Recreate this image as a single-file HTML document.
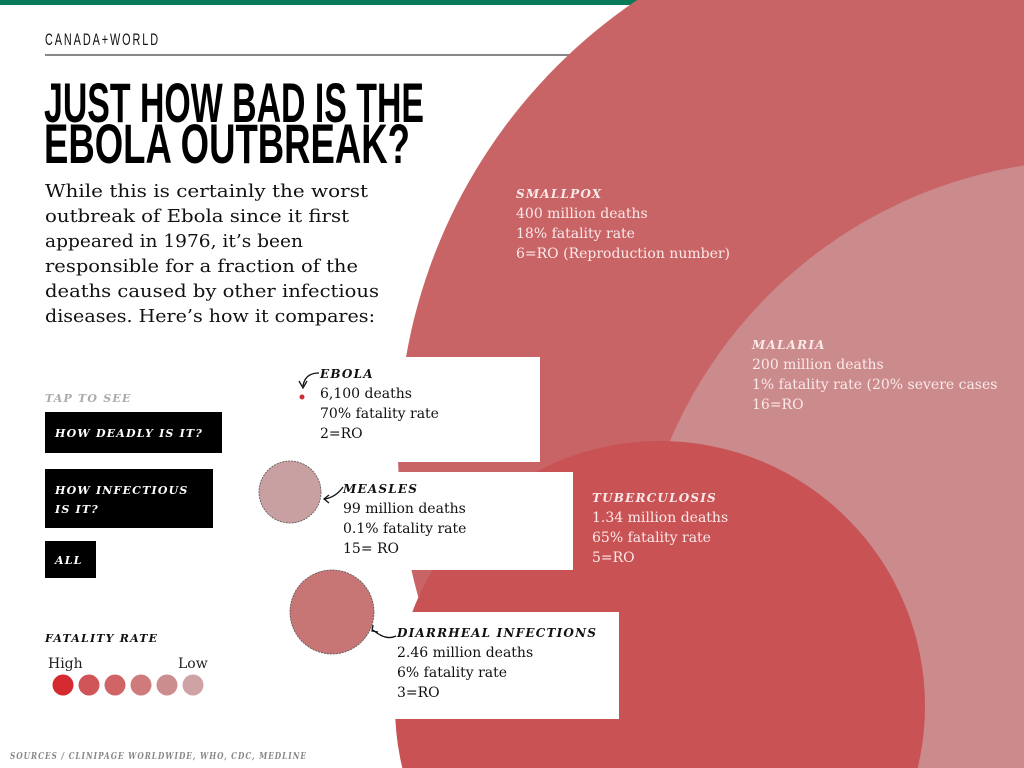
<!DOCTYPE html>
<html><head><meta charset="utf-8"><style>
html,body{margin:0;padding:0;background:#fff;overflow:hidden;width:1024px;height:768px;}
svg{display:block;overflow:hidden;}
.sf{font-family:"DejaVu Serif","Liberation Serif",serif;}
.lbl{font-family:"DejaVu Serif","Liberation Serif",serif;font-weight:bold;font-style:italic;letter-spacing:1.2px;}
</style></head><body>
<svg id="chart" width="1024" height="768" viewBox="0 0 1024 768" xmlns="http://www.w3.org/2000/svg">
<rect x="0" y="0" width="700" height="5" fill="#087a5a"/>
<text x="45" y="45" font-family="Liberation Sans Narrow, Liberation Sans, sans-serif" font-size="17" letter-spacing="3" textLength="115" lengthAdjust="spacingAndGlyphs" fill="#111">CANADA+WORLD</text>
<rect x="45" y="54" width="620" height="2" fill="#888"/>
<g id="bigcircles"></g>
<g id="boxes"></g>
<g id="small"></g>
<text x="44" y="122" font-family="Liberation Sans, sans-serif" font-weight="bold" font-size="56" textLength="380" lengthAdjust="spacingAndGlyphs" fill="#000">JUST HOW BAD IS THE</text>
<text x="44" y="163" font-family="Liberation Sans, sans-serif" font-weight="bold" font-size="56" textLength="366" lengthAdjust="spacingAndGlyphs" fill="#000">EBOLA OUTBREAK?</text>
<g class="sf" font-size="18" fill="#111">
<text x="45" y="197" textLength="323" lengthAdjust="spacingAndGlyphs">While this is certainly the worst</text>
<text x="45" y="222" textLength="304" lengthAdjust="spacingAndGlyphs">outbreak of Ebola since it first</text>
<text x="45" y="247" textLength="258" lengthAdjust="spacingAndGlyphs">appeared in 1976, it’s been</text>
<text x="45" y="272" textLength="313" lengthAdjust="spacingAndGlyphs">responsible for a fraction of the</text>
<text x="45" y="297" textLength="334" lengthAdjust="spacingAndGlyphs">deaths caused by other infectious</text>
<text x="45" y="322" textLength="330" lengthAdjust="spacingAndGlyphs">diseases. Here’s how it compares:</text>
</g>
<text class="lbl" x="45" y="402" font-size="11" fill="#aaa">TAP TO SEE</text>
<g>
<rect x="45" y="412" width="177" height="41" fill="#000"/>
<text class="lbl" x="55" y="437" font-size="11" fill="#fff">HOW DEADLY IS IT?</text></g>
<g>
<rect x="45" y="469" width="168" height="59" fill="#000"/>
<text class="lbl" x="55" y="494" font-size="11" fill="#fff">HOW INFECTIOUS</text>
<text class="lbl" x="55" y="513" font-size="11" fill="#fff">IS IT?</text></g>
<g>
<rect x="45" y="541" width="51" height="37" fill="#000"/>
<text class="lbl" x="55" y="564" font-size="11" fill="#fff">ALL</text></g>
<text class="lbl" x="45" y="642" font-size="11" fill="#111">FATALITY RATE</text>
<text class="sf" x="48" y="668" font-size="14" fill="#222">High</text>
<text class="sf" x="178" y="668" font-size="14" fill="#222">Low</text>
<g id="legend"></g>
<text class="lbl" x="10" y="759" font-size="9" fill="#888" letter-spacing="0.6" textLength="297" lengthAdjust="spacingAndGlyphs">SOURCES / CLINIPAGE WORLDWIDE, WHO, CDC, MEDLINE</text>
<g id="labels"></g>
</svg>
<script>
const diseaseNames = ["SMALLPOX","MALARIA","TUBERCULOSIS","EBOLA","MEASLES","DIARRHEAL INFECTIONS"];
const deathLabels = ["400 million deaths","200 million deaths","1.34 million deaths","6,100 deaths","99 million deaths","2.46 million deaths"];
const fatalityLabels = ["18% fatality rate","1% fatality rate (20% severe cases","65% fatality rate","70% fatality rate","0.1% fatality rate","6% fatality rate"];
const roLabels = ["6=RO (Reproduction number)","16=RO","5=RO","2=RO","15= RO","3=RO"];
const bubbleSizes = [543,462,265,2.5,31,42];
const legendColors = ["#d42a30","#d05558","#d06466","#cf7b7c","#cc8d8e","#cfa3a5"];

const NS="http://www.w3.org/2000/svg";
function mk(tag,attrs,parent){const e=document.createElementNS(NS,tag);for(const k in attrs)e.setAttribute(k,attrs[k]);parent.appendChild(e);return e;}
const fills=["#c96466","#cb8a8b","#c95254","#cc2e34","#c9a0a2","#c87576"];
const centers=[[941,450],[1095,622],[660,706],[302,397],[290,492],[332,612]];
const big=document.getElementById('bigcircles'), sm=document.getElementById('small');
const bubbleNames=["smallpox-bubble","malaria-bubble","tuberculosis-bubble","ebola-bubble","measles-bubble","diarrheal-bubble"];
diseaseNames.forEach((n,i)=>{
  const c=mk('circle',{cx:centers[i][0],cy:centers[i][1],r:bubbleSizes[i],fill:fills[i]},i<3?big:sm);
  if(i>=4){c.setAttribute('stroke','#555');c.setAttribute('stroke-width','0.8');c.setAttribute('stroke-dasharray','2 1');}
  
  
});
const boxes=document.getElementById('boxes');
[[300,357,240,105],[330,472,243,98],[380,612,239,107]].forEach((b,i)=>{
  const r=mk('rect',{x:b[0],y:b[1],width:b[2],height:b[3],fill:'#fff'},boxes);
  
  
});
const labelPos=[[516,198],[752,349],[592,502],[320,378],[343,493],[397,637]];
const labels=document.getElementById('labels');
diseaseNames.forEach((n,i)=>{
  const col=i<3?'#fbe9e9':'#111';
  const g=mk('g',{},labels);
  
  
  const x=labelPos[i][0], y=labelPos[i][1];
  mk('text',{x:x,y:y,class:'lbl','font-size':12,fill:col},g).textContent=n;
  [deathLabels[i],fatalityLabels[i],roLabels[i]].forEach((t,j)=>{
    mk('text',{x:x,y:y+20*(j+1),class:'sf','font-size':14,fill:col},g).textContent=t;
  });
});
const arrows=["M319,373 Q305,373 303,386","M343,487 Q336,497 325,499","M396,636 Q386,641 373,630"];
const heads=["M299,381 L303,388 L307,381","M329,495 L324,499 L329,503","M373,625 L372,631 L378,632"];
arrows.forEach((d,i)=>{
  const p=mk('path',{d:d,fill:'none',stroke:'#111','stroke-width':1.3},labels);
  
  
  const h=mk('path',{d:heads[i],fill:'none',stroke:'#111','stroke-width':1.3},labels);
  
  
});
const lg=document.getElementById('legend');
legendColors.forEach((c,i)=>{
  const e=mk('circle',{cx:63+i*26,cy:685,r:10.5,fill:c},lg);
  
  
});
</script>
</body></html>
